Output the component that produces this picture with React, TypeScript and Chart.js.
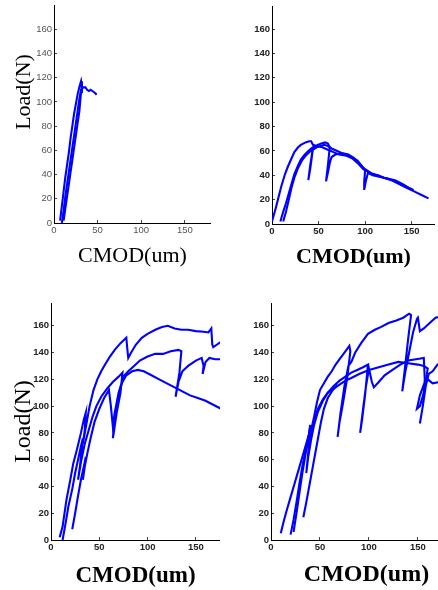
import React, { useEffect, useRef } from 'react';
import { Chart, registerables } from 'chart.js';

Chart.register(...registerables);

type Pt = [number, number];

const xTickValues = [0, 50, 100, 150];
const yTickValues = [0, 20, 40, 60, 80, 100, 120, 140, 160];
const xAxisTitle = 'CMOD(um)';
const yAxisTitle = 'Load(N)';

// ---- top-left panel ----
const tlCurve1: Pt[] = [[7,2],[9,14],[11,26],[13,38],[15,48],[17,58],[19,70],[21,80],[23,90],[25,98],[27,106],[29,112],[31,117],[32,111],[34,112],[36,112],[38,110],[40,109],[42,110],[44,109],[46,108],[49,106]];
const tlCurve2: Pt[] = [[9,0],[11,10],[13,22],[15,32],[17,42],[19,52],[21,62],[23,72],[25,82],[27,92],[29,102],[31,110],[32,114]];
const tlCurve3: Pt[] = [[11,2],[13,12],[15,22],[17,32],[19,42],[21,52],[23,62],[25,72],[27,82],[29,92],[30,100],[31,108],[32,113]];

// ---- top-right panel ----
const trCurve1: Pt[] = [[0,2],[4,13],[7,22],[10,31],[14,41],[17,47],[21,54],[24,59],[28,63],[31,65],[36,67],[40,68],[42,68],[44,65],[48,64],[54,63],[60,61],[66,59],[72,57],[80,56],[86,54],[92,50],[98,45],[103,43],[108,41],[114,40],[120,38],[126,37],[132,35],[140,32],[146,30],[150,28]];
const trCurve2: Pt[] = [[9,2],[12,10],[15,17],[18,25],[21,33],[24,41],[28,48],[31,53],[35,57],[39,60],[42,62],[44,63],[41,48],[39,36],[41,45],[44,62],[49,65],[53,66],[57,67],[60,66],[62,63],[60,48],[58,35],[60,42],[62,50],[64,55],[68,57],[74,58],[80,57],[86,55],[92,52],[97,47],[100,44],[99,35],[99,28],[101,36],[103,42],[108,40],[114,39],[120,38],[126,37],[132,36],[140,33],[146,30],[152,28]];
const trCurve3: Pt[] = [[12,2],[15,10],[18,20],[21,30],[24,38],[28,46],[32,52],[36,56],[40,59],[44,61],[48,63],[52,64],[56,65],[60,64],[64,62],[70,60],[76,58],[82,57],[88,54],[94,49],[100,45],[106,42],[112,40],[120,38],[128,36],[136,33],[144,30],[152,27],[160,24],[168,21]];

// ---- bottom-left panel ----
const blCurve1: Pt[] = [[9,2],[12,10],[16,30],[20,45],[23,57],[27,68],[31,80],[34,90],[36,95],[35,82],[33,72],[36,84],[40,100],[44,112],[48,120],[52,126],[56,131],[61,137],[66,142],[72,147],[78,151],[79,143],[80,136],[83,140],[88,146],[94,151],[100,154],[108,157],[115,159],[121,160],[128,158],[135,157],[142,157],[150,156],[158,155.5],[163,155],[166,158],[167,146],[168,144],[172,146],[176,148]];
const blCurve2: Pt[] = [[12,0],[15,12],[18,25],[22,38],[25,50],[28,60],[31,70],[33,76],[30,55],[28,45],[31,58],[35,72],[39,82],[43,92],[47,100],[52,107],[58,113],[64,118],[70,122],[74,125],[72,110],[68,95],[65,80],[64,76],[67,95],[71,112],[75,122],[80,126],[86,130],[92,134],[100,137],[108,139],[116,139],[124,141],[132,142],[135,141],[133,125],[129,107],[132,118],[136,126],[142,130],[150,134],[156,136],[158,130],[157,124],[160,133],[164,136],[170,135],[176,135]];
const blCurve3: Pt[] = [[22,8],[25,20],[28,33],[31,45],[34,55],[36,62],[33,45],[35,55],[38,66],[41,76],[45,88],[50,98],[55,106],[60,112],[62,100],[64,85],[66,95],[70,110],[74,118],[78,123],[84,126],[90,127],[96,126],[104,123],[112,120],[120,117],[128,114],[136,111],[144,108],[152,106],[160,104],[168,101],[176,98]];

// ---- bottom-right panel ----
const brCurve1: Pt[] = [[10,5],[13,14],[16,22],[20,32],[24,42],[28,52],[32,62],[36,72],[38,77],[41,82],[44,92],[47,103],[50,112],[54,117],[58,122],[62,126],[66,131],[70,135],[75,140],[80,145],[81,141],[78,122],[73,100],[70,88],[68,77],[71,95],[75,115],[79,130],[82,133],[86,140],[92,147],[99,154],[106,157],[112,159],[120,162],[128,164],[135,166],[141,169],[143,168],[140,150],[137,130],[134,111],[137,125],[141,140],[145,155],[149,165],[150,166],[152,156],[156,158],[162,162],[168,166],[174,167],[180,168]];
const brCurve2: Pt[] = [[20,4],[23,15],[26,28],[29,42],[32,55],[35,66],[38,76],[40,84],[38,65],[36,50],[38,62],[41,75],[44,86],[48,96],[53,104],[58,110],[64,115],[70,119],[76,122],[82,125],[88,127],[94,129],[99,131],[96,108],[93,90],[91,80],[94,98],[97,115],[100,128],[103,118],[105,114],[110,118],[116,123],[124,127],[132,131],[140,134],[148,135],[156,136],[157,120],[155,100],[152,87],[155,100],[158,115],[161,124],[165,126],[170,131],[176,133],[180,134]];
const brCurve3: Pt[] = [[23,6],[26,20],[29,35],[32,50],[35,63],[38,75],[40,86],[39,70],[41,80],[44,90],[48,98],[53,105],[58,110],[64,113],[70,116],[76,119],[82,121],[90,124],[100,127],[110,129],[120,131],[130,133],[140,132],[150,131],[156,130],[160,128],[156,110],[152,100],[149,98],[152,108],[156,116],[160,120],[165,117],[172,118],[180,119]];
const brCurve4: Pt[] = [[33,17],[36,28],[39,40],[42,52],[45,64],[48,76],[51,88],[54,98],[58,106],[63,112],[68,116]];

interface Panel {
  key: string;
  curves: Pt[][];
  xMax: number;
  yMax: number;
  left: number;
  top: number;
  w: number;
  h: number;
  yWidth: number;
  xHeight: number;
  showYTitle: boolean;
  yTitleText: string;
  yTitleSize: number;
  yTitlePad: number;
  xTitleSize: number;
  xTitleBold: boolean;
  xTitlePad: number;
  tickBold: boolean;
  tickColor: string;
}

const panels: Panel[] = [
  { key: 'tl', curves: [tlCurve1, tlCurve2, tlCurve3], xMax: 180, yMax: 180, left: 0, top: 5, w: 211, h: 270, yWidth: 54, xHeight: 52, showYTitle: true, yTitleText: '        ' + yAxisTitle, yTitleSize: 22, yTitlePad: 13, xTitleSize: 22, xTitleBold: false, xTitlePad: 8, tickBold: false, tickColor: '#555' },
  { key: 'tr', curves: [trCurve1, trCurve2, trCurve3], xMax: 175, yMax: 179, left: 232, top: 6, w: 203, h: 269, yWidth: 40, xHeight: 51, showYTitle: false, yTitleText: yAxisTitle, yTitleSize: 22, yTitlePad: 0, xTitleSize: 22, xTitleBold: true, xTitlePad: 7, tickBold: true, tickColor: '#222' },
  { key: 'bl', curves: [blCurve1, blCurve2, blCurve3], xMax: 175, yMax: 177, left: 0, top: 303, w: 220, h: 287, yWidth: 51, xHeight: 50, showYTitle: true, yTitleText: yAxisTitle, yTitleSize: 24, yTitlePad: 12, xTitleSize: 23, xTitleBold: true, xTitlePad: 2.5, tickBold: true, tickColor: '#222' },
  { key: 'br', curves: [brCurve1, brCurve2, brCurve3, brCurve4], xMax: 195, yMax: 177, left: 231, top: 303, w: 231, h: 287, yWidth: 40, xHeight: 50, showYTitle: false, yTitleText: yAxisTitle, yTitleSize: 24, yTitlePad: 0, xTitleSize: 24, xTitleBold: true, xTitlePad: 3, tickBold: true, tickColor: '#222' },
];

const serif = "'Liberation Serif', 'Times New Roman', serif";
const sans = "'Liberation Sans', Arial, sans-serif";

function PanelChart({ p }: { p: Panel }) {
  const ref = useRef<HTMLCanvasElement>(null);
  useEffect(() => {
    const tickFont = { family: sans, size: 9.5, weight: p.tickBold ? 'bold' : 'normal' } as any;
    const gridOpts = { display: true, drawOnChartArea: false, drawTicks: true, tickLength: -3, color: '#444', lineWidth: 1 };
    const chart = new Chart(ref.current as HTMLCanvasElement, {
      type: 'scatter',
      data: {
        datasets: p.curves.map((c) => ({
          data: c.map(([x, y]) => ({ x, y })),
          showLine: true,
          borderColor: '#0000ff',
          backgroundColor: '#0000ff',
          borderWidth: 2.1,
          pointRadius: 0,
          tension: 0,
        })),
      },
      options: {
        animation: false,
        responsive: false,
        devicePixelRatio: 1,
        layout: { padding: 0 },
        plugins: { legend: { display: false }, tooltip: { enabled: false } },
        scales: {
          x: {
            type: 'linear',
            min: 0,
            max: p.xMax,
            afterBuildTicks: (s: any) => { s.ticks = xTickValues.map((v) => ({ value: v })); },
            afterFit: (s: any) => { s.height = p.xHeight; s.paddingLeft = 0; s.paddingRight = 0; },
            grid: gridOpts,
            border: { display: true, color: '#000', width: 1 },
            ticks: { font: tickFont, color: p.tickColor, padding: 5, maxRotation: 0, autoSkip: false },
            title: {
              display: true,
              text: xAxisTitle,
              color: '#000',
              font: { family: serif, size: p.xTitleSize, weight: p.xTitleBold ? 'bold' : 'normal', lineHeight: 1 } as any,
              padding: { top: 0, bottom: p.xTitlePad },
            },
          },
          y: {
            type: 'linear',
            min: 0,
            max: p.yMax,
            afterBuildTicks: (s: any) => { s.ticks = yTickValues.map((v) => ({ value: v })); },
            afterFit: (s: any) => { s.width = p.yWidth; s.paddingTop = 0; s.paddingBottom = 0; },
            grid: gridOpts,
            border: { display: true, color: '#000', width: 1 },
            ticks: { font: tickFont, color: p.tickColor, padding: 5, autoSkip: false },
            title: {
              display: p.showYTitle,
              text: p.yTitleText,
              color: '#000',
              font: { family: serif, size: p.yTitleSize, weight: 'normal', lineHeight: 1 } as any,
              padding: { top: p.yTitlePad, bottom: 0 },
            },
          },
        },
      },
    });
    return () => chart.destroy();
  }, [p]);
  return (
    <canvas
      ref={ref}
      width={p.w}
      height={p.h}
      style={{ position: 'absolute', left: p.left, top: p.top, width: p.w, height: p.h }}
    />
  );
}

export default function App() {
  return (
    <div style={{ position: 'fixed', left: 0, top: 0, width: 438, height: 590, overflow: 'hidden', background: '#fff' }}>
      {panels.map((p) => (
        <PanelChart key={p.key} p={p} />
      ))}
    </div>
  );
}
